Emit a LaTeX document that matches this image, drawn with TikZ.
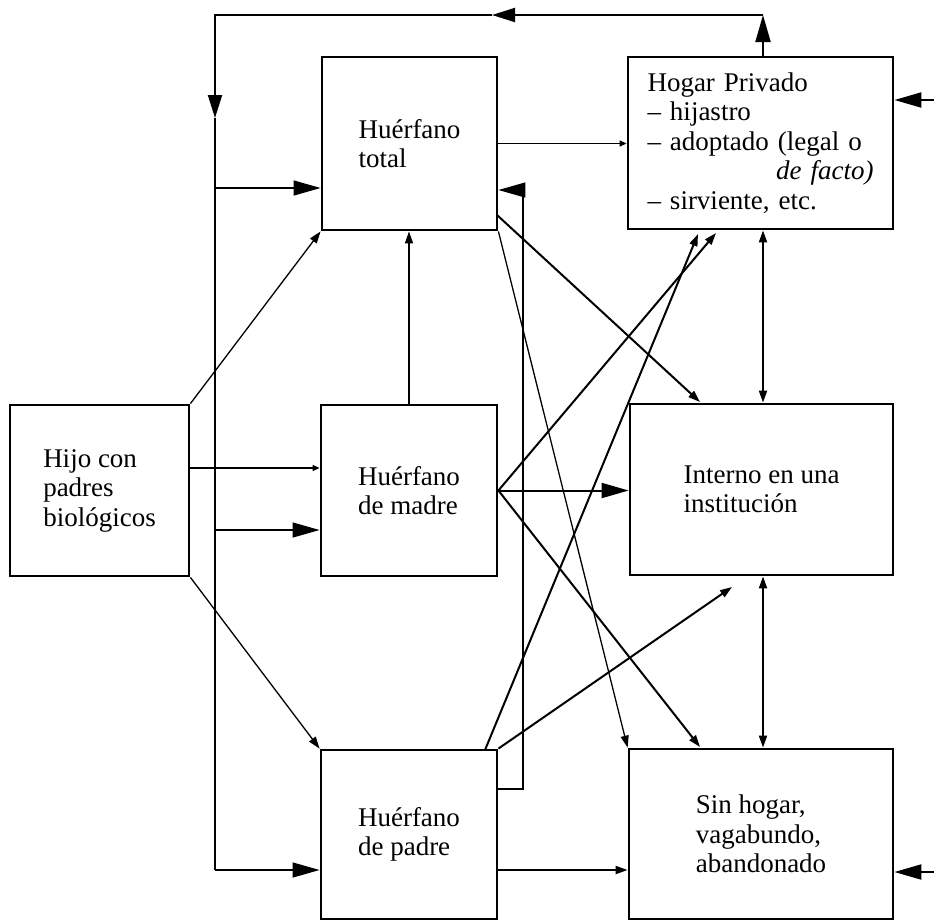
\documentclass[tikz,border=0pt]{standalone}
\usepackage{fontspec}
\setmainfont{Liberation Serif}
\usetikzlibrary{arrows.meta,calc}
\begin{document}
\begin{tikzpicture}[x=1pt,y=-1pt,
  box/.style={draw,line width=2.8pt,rectangle,inner sep=0pt,align=left,font=\fontsize{27}{29.5}\selectfont},
  thinln/.style={line width=1.3pt},
  thickln/.style={line width=2pt},
  bigtip/.style={-{Triangle[length=27pt,width=15pt]}},
  midtip/.style={-{Triangle[length=23pt,width=14pt]}},
  smalltip/.style={-{Triangle[length=12pt,width=8pt]}},
  tinytip/.style={-{Triangle[length=7pt,width=6pt]}},
  dbltip/.style={{Triangle[length=12pt,width=8pt]}-{Triangle[length=12pt,width=8pt]}}
]
\useasboundingbox (0,0) rectangle (934,922);

% boxes
\node[box,minimum width=179pt,minimum height=171pt] (H) at (99.5,490.5) {Hijo con\\padres\\biológicos};
\node[box,minimum width=175pt,minimum height=173pt] (T) at (409.5,143.5) {Huérfano\\total};
\node[box,minimum width=176pt,minimum height=171pt] (M) at (409,490.5) {Huérfano\\de madre};
\node[box,minimum width=176pt,minimum height=169pt] (P) at (409,834.5) {Huérfano\\de padre};
\node[box,minimum width=265pt,minimum height=172pt,text width=226pt] (HP) at (760.5,143)
  {Hogar Privado\\– hijastro\\– adoptado (legal o\\\hspace*{\fill}\textit{de facto)}\\– sirviente, etc.};
\node[box,minimum width=263pt,minimum height=171pt] (I) at (761.5,489.5) {Interno en una\\institución};
\node[box,minimum width=264pt,minimum height=170pt] (S) at (761,834) {Sin hogar,\\vagabundo,\\abandonado};

% coordinates
\coordinate (VX) at (763,0);
\coordinate (TR) at (763,15);
\coordinate (LA) at (492,15);
\coordinate (TL) at (215,15);
\coordinate (LD) at (215,118);
\coordinate (LB) at (215,870);
\coordinate (LT) at (215,188);
\coordinate (LM) at (215,530);
\coordinate (H1) at (0,468);
\coordinate (Tq) at (497,215);
\coordinate (Ie) at (700,402);
\coordinate (Se) at (700,747);
\coordinate (HPa) at (716,233);
\coordinate (HPb) at (698,234);
\coordinate (Pt) at (485,750);
\coordinate (Ib) at (732,587);
\coordinate (PL1) at (523,789);
\coordinate (PL2) at (523,190);
\coordinate (B) at (0,870);
\coordinate (R1) at (934,100);
\coordinate (R2) at (934,872);

% big loop
\draw[thickln,bigtip] (TR |- HP.north) -- (TR);
\draw[thickln,midtip] (TR) -- (LA);
\draw[thickln,midtip] (LA) -- (TL) -- (LD);
\draw[thinln] (LD) -- (LB);
\draw[thinln,bigtip] (LB) -- (LB -| P.west);
\draw[thinln,bigtip] (LT) -- (LT -| T.west);
\draw[thinln,bigtip] (LM) -- (LM -| M.west);

% from Hijo
\draw[thinln,smalltip] (H.north east) -- (T.south west);
\draw[thinln,smalltip] (H.south east) -- (P.north west);
\draw[thinln,tinytip] (H1 -| H.east) -- (H1 -| M.west);

% madre -> total
\draw[thinln,smalltip] (M.north) -- (M.north |- T.south);

% from total
\draw[thinln,tinytip] (T.east) -- (T.east -| HP.west);
\draw[thickln,smalltip] (Tq) -- (Ie);
\draw[thinln,smalltip] (T.south east) -- (S.north west);

% from madre
\draw[thickln,bigtip] (M.east) -- (M.east -| I.west);
\draw[thickln,smalltip] (M.east) -- (HPa);
\draw[thickln,smalltip] (M.east) -- (Se);

% from padre
\draw[thickln,smalltip] (Pt) -- (HPb);
\draw[thickln,smalltip] (P.north east) -- (Ib);
\draw[thinln,bigtip] (PL1 -| P.east) -- (PL1) -- (PL2) -- (PL2 -| T.east);
\draw[thickln,smalltip] (B -| P.east) -- (B -| S.west);

% vertical double arrows
\draw[thickln,dbltip] (VX |- HP.south) -- (VX |- I.north);
\draw[thickln,dbltip] (VX |- I.south) -- (VX |- S.north);

% right inputs
\draw[thickln,bigtip] (R1) -- (R1 -| HP.east);
\draw[thickln,bigtip] (R2) -- (R2 -| S.east);
\end{tikzpicture}
\end{document}
